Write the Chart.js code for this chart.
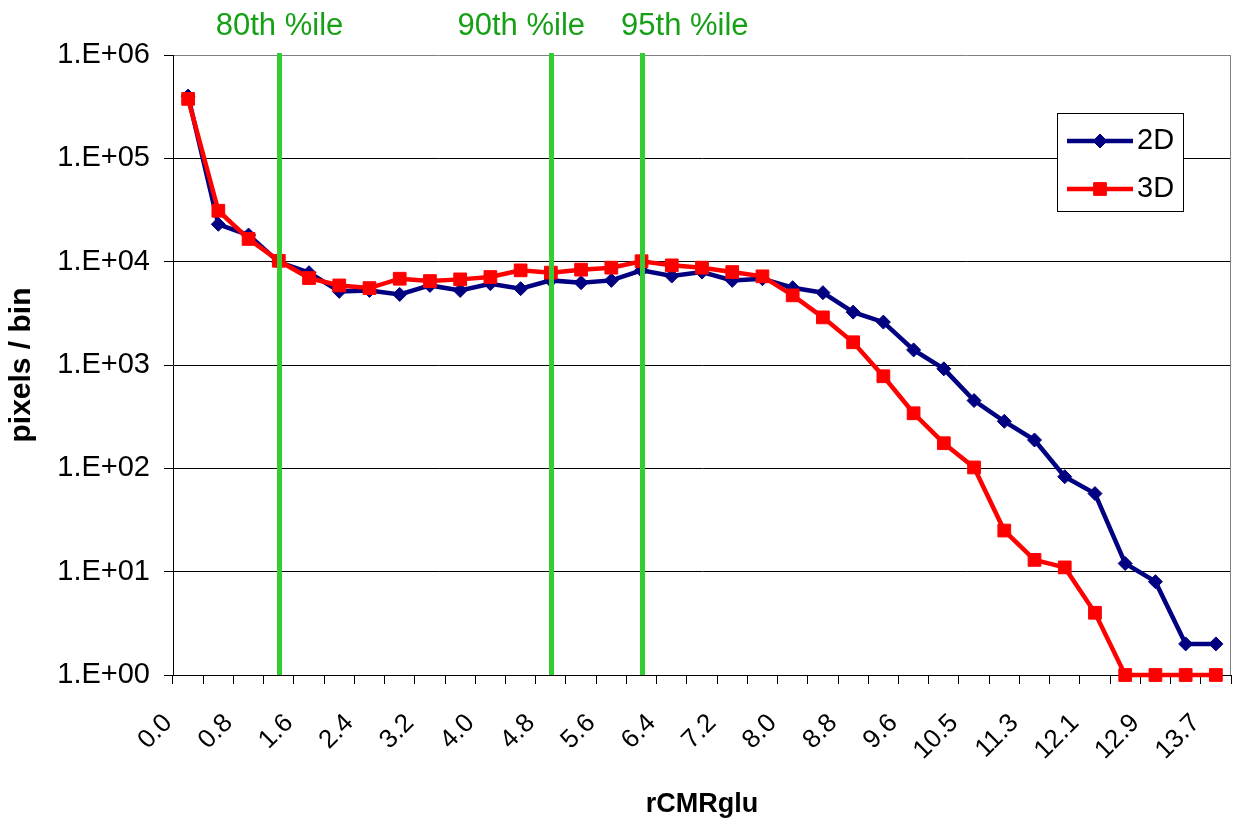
<!DOCTYPE html>
<html>
<head>
<meta charset="utf-8">
<script src="https://cdn.jsdelivr.net/npm/chart.js@4/dist/chart.umd.min.js"></script>
<style>
  html, body { margin: 0; padding: 0; background: #ffffff; }
  #wrap { width: 1233px; height: 818px; }
</style>
</head>
<body>
<div id="wrap"><canvas id="c" width="1233" height="818"></canvas></div>
<script>
// ---- data ----
const categories = ['0.0','0.4','0.8','1.2','1.6','2.0','2.4','2.8','3.2','3.6','4.0','4.4','4.8','5.2','5.6','6.0','6.4','6.8','7.2','7.6','8.0','8.4','8.8','9.2','9.6','10.1','10.5','10.9','11.3','11.7','12.1','12.5','12.9','13.3','13.7'];
const seriesNames = ['2D', '3D'];
const values2D = [400000, 23000, 18100, 9900, 7830, 5160, 5270, 4820, 5890, 5270, 6120, 5480, 6590, 6260, 6590, 8240, 7260, 7930, 6590, 6840, 5600, 5010, 3250, 2600, 1400, 918, 453, 285, 188, 83, 57, 12, 8, 2, 2];
const values3D = [376000, 31100, 16600, 10200, 6940, 5890, 5550, 6840, 6490, 6740, 7100, 8240, 7830, 8370, 8750, 10100, 9210, 8750, 7930, 7210, 4720, 2890, 1660, 778, 341, 175, 102, 25, 13, 11, 4, 1, 1, 1, 1];
const yTickValues = [1, 10, 100, 1000, 10000, 100000, 1000000];
const yTickLabels = ['1.E+00','1.E+01','1.E+02','1.E+03','1.E+04','1.E+05','1.E+06'];
const percentileIdx = [3, 12, 15];
const percentileLabels = ['80th %ile', '90th %ile', '95th %ile'];

const FONT = "'Liberation Sans', Arial, Helvetica, sans-serif";

const percentilePlugin = {
  id: 'percentiles',
  afterDatasetsDraw(chart, args, opts) {
    const { ctx, chartArea, scales } = chart;
    const x = scales.x;
    const step = x.getPixelForValue(1) - x.getPixelForValue(0);
    ctx.save();
    percentileIdx.forEach((idx, i) => {
      const px = Math.round(x.getPixelForValue(idx)) + 0.5;
      ctx.strokeStyle = '#33CC33';
      ctx.lineWidth = 5;
      ctx.beginPath();
      ctx.moveTo(px, chartArea.top - 2);
      ctx.lineTo(px, chartArea.bottom);
      ctx.stroke();
      ctx.fillStyle = '#16A016';
      ctx.font = '31px ' + FONT;
      ctx.textAlign = 'center';
      ctx.textBaseline = 'alphabetic';
      ctx.fillText(percentileLabels[i], px + opts.labelShift[i] * step, 35);
    });
    ctx.restore();
  }
};

const frameLegendPlugin = {
  id: 'frameLegend',
  beforeDatasetsDraw(chart) {
    const { ctx, chartArea } = chart;
    ctx.save();
    ctx.strokeStyle = '#808080';
    ctx.lineWidth = 1;
    ctx.beginPath();
    ctx.moveTo(Math.round(chartArea.right) - 0.5, chartArea.top);
    ctx.lineTo(Math.round(chartArea.right) - 0.5, chartArea.bottom);
    ctx.stroke();
    ctx.restore();
  },
  afterDraw(chart, args, opts) {
    const { ctx } = chart;
    const b = opts.box;
    ctx.save();
    ctx.fillStyle = '#ffffff';
    ctx.fillRect(b.x, b.y, b.w, b.h);
    ctx.strokeStyle = '#000000';
    ctx.lineWidth = 1;
    ctx.strokeRect(b.x + 0.5, b.y + 0.5, b.w, b.h);
    chart.data.datasets.forEach((ds, i) => {
      const ly = b.y + opts.rowY[i];
      ctx.strokeStyle = ds.borderColor;
      ctx.lineWidth = ds.borderWidth;
      ctx.beginPath();
      ctx.moveTo(b.x + 10, ly);
      ctx.lineTo(b.x + 76, ly);
      ctx.stroke();
      ctx.fillStyle = ds.pointBackgroundColor;
      ctx.strokeStyle = ds.pointBorderColor;
      ctx.lineWidth = ds.pointBorderWidth;
      Chart.helpers.drawPoint(ctx, { pointStyle: ds.pointStyle, radius: ds.pointRadius, rotation: 0, borderWidth: ds.pointBorderWidth }, b.x + 43, ly);
      ctx.fillStyle = '#000000';
      ctx.font = '29px ' + FONT;
      ctx.textAlign = 'left';
      ctx.textBaseline = 'middle';
      ctx.fillText(ds.label, b.x + 80, ly);
    });
    ctx.restore();
  }
};

new Chart(document.getElementById('c'), {
  type: 'line',
  data: {
    labels: categories,
    datasets: [
      {
        label: seriesNames[0],
        data: values2D,
        order: 1,
        borderColor: '#000080',
        backgroundColor: '#000080',
        borderWidth: 4.5,
        pointStyle: 'rectRot',
        pointRadius: 7,
        pointBackgroundColor: '#000080',
        pointBorderColor: '#000080',
        pointBorderWidth: 1,
        tension: 0,
        clip: false
      },
      {
        label: seriesNames[1],
        data: values3D,
        order: 0,
        borderColor: '#FF0000',
        backgroundColor: '#FF0000',
        borderWidth: 4.5,
        pointStyle: 'rect',
        pointRadius: 9,
        pointBackgroundColor: '#FF0000',
        pointBorderColor: '#FF0000',
        pointBorderWidth: 1,
        tension: 0,
        clip: false
      }
    ]
  },
  options: {
    responsive: false,
    animation: false,
    events: [],
    layout: { autoPadding: false, padding: { top: 55, right: 2, bottom: 0, left: 0 } },
    plugins: {
      legend: { display: false },
      tooltip: { enabled: false },
      percentiles: { labelShift: [0, -1, 1.4] },
      frameLegend: { box: { x: 1057, y: 113, w: 126, h: 98 }, rowY: [28, 76] }
    },
    scales: {
      x: {
        type: 'category',
        offset: true,
        grid: { display: true, drawOnChartArea: false, drawTicks: true, tickLength: 9, color: '#000000', lineWidth: 1, offset: true },
        border: { display: true, color: '#000000', width: 1 },
        ticks: {
          autoSkip: false,
          minRotation: 45,
          maxRotation: 45,
          labelOffset: -20,
          padding: 24,
          color: '#000000',
          font: { family: FONT, size: 26 },
          callback: (v, i) => (i % 2 === 0 ? categories[i] : '')
        },
        title: {
          display: true,
          text: 'rCMRglu',
          color: '#000000',
          font: { family: FONT, size: 27, weight: 'bold', lineHeight: 1 },
          padding: { top: 0, bottom: 0 }
        },
        afterFit: (s) => { s.height = 143; s.paddingLeft = 0; s.paddingRight = 0; }
      },
      y: {
        type: 'logarithmic',
        min: 1,
        max: 1000000,
        afterBuildTicks: (s) => { s.ticks = yTickValues.map(v => ({ value: v })); },
        grid: {
          color: (c) => (c.tick && c.tick.value === 1000000 ? '#808080' : '#000000'),
          tickColor: '#000000',
          tickLength: 9,
          lineWidth: 1
        },
        border: { display: true, color: '#000000', width: 1 },
        ticks: {
          padding: 14,
          color: '#000000',
          font: { family: FONT, size: 29 },
          callback: (v, i) => yTickLabels[i]
        },
        title: {
          display: true,
          text: 'pixels / bin',
          color: '#000000',
          font: { family: FONT, size: 30, weight: 'bold', lineHeight: 1 },
          padding: { top: 7, bottom: 0 }
        },
        afterFit: (s) => { s.width = 173; s.paddingTop = 0; s.paddingBottom = 0; }
      }
    }
  },
  plugins: [percentilePlugin, frameLegendPlugin]
});
</script>
</body>
</html>
